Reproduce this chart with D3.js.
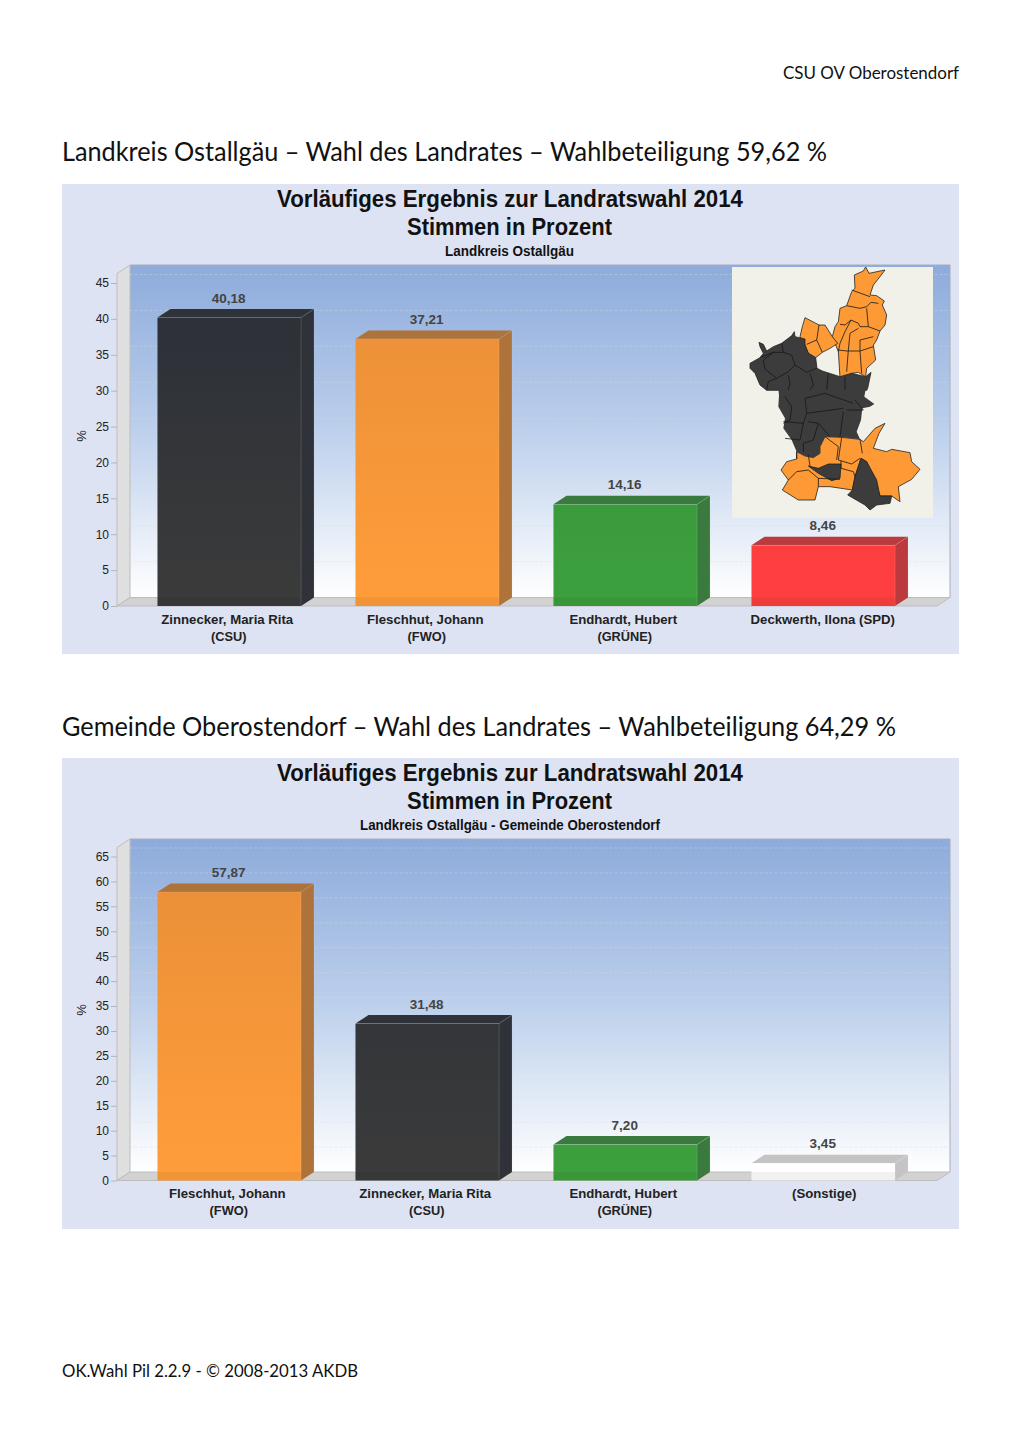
<!DOCTYPE html>
<html><head><meta charset="utf-8">
<script src="https://cdn.jsdelivr.net/npm/d3@7/dist/d3.min.js"></script>
<style>html,body{margin:0;padding:0;background:#fff}svg{display:block}</style>
</head><body><svg id="c" width="1020" height="1442"></svg>
<script>
const pageHeader = "CSU OV Oberostendorf";
const pageFooter = "OK.Wahl Pil 2.2.9 - © 2008-2013 AKDB";
const heading1 = "Landkreis Ostallgäu – Wahl des Landrates – Wahlbeteiligung 59,62 %";
const heading2 = "Gemeinde Oberostendorf – Wahl des Landrates – Wahlbeteiligung 64,29 %";
const chartTitle = ["Vorläufiges Ergebnis zur Landratswahl 2014", "Stimmen in Prozent"];
const subtitle1 = "Landkreis Ostallgäu";
const subtitle2 = "Landkreis Ostallgäu - Gemeinde Oberostendorf";
const names1 = ["Zinnecker, Maria Rita", "Fleschhut, Johann", "Endhardt, Hubert", "Deckwerth, Ilona (SPD)"];
const parties1 = ["(CSU)", "(FWO)", "(GRÜNE)", ""];
const values1 = [40.18, 37.21, 14.16, 8.46];
const groups1 = ["CSU", "FWO", "GRUENE", "SPD"];
const ticks1 = [0, 5, 10, 15, 20, 25, 30, 35, 40, 45];
const names2 = ["Fleschhut, Johann", "Zinnecker, Maria Rita", "Endhardt, Hubert", "(Sonstige)"];
const parties2 = ["(FWO)", "(CSU)", "(GRÜNE)", ""];
const values2 = [57.87, 31.48, 7.20, 3.45];
const groups2 = ["FWO", "CSU", "GRUENE", "OTHER"];
const ticks2 = [0, 5, 10, 15, 20, 25, 30, 35, 40, 45, 50, 55, 60, 65];
const frontTop = {CSU:"#2a2f37", FWO:"#e88e38", GRUENE:"#338f3c", SPD:"#f5393c", OTHER:"#ffffff"};
const frontBottom = {CSU:"#3b3b3b", FWO:"#ff9d3a", GRUENE:"#3da03d", SPD:"#ff3f3f", OTHER:"#ffffff"};
const shadeColors = {CSU:"#2f3239", FWO:"#ad733a", GRUENE:"#3a7a3e", SPD:"#bb3a3e", OTHER:"#c4c4c4"};

// Inset map outlines. North shapes use one map grid, south shapes another.
const northOrange1 = [[328,30],[355,18],[362,6],[372,25],[420,15],[405,35],[385,60],[375,90],[395,92],[418,108],[412,120],[425,150],[420,180],[405,198],[395,225],[385,240],[392,285],[365,310],[362,335],[340,322],[320,325],[285,340],[283,305],[280,260],[272,240],[262,215],[270,185],[280,170],[285,130],[305,122],[320,80],[330,70]];
const northOrange2 = [[180,158],[222,180],[240,180],[262,215],[278,235],[255,250],[232,262],[212,278],[190,265],[180,240],[165,215],[172,185]];
const northDark = [[42,232],[55,238],[65,258],[85,245],[110,235],[140,212],[148,200],[150,215],[180,222],[180,240],[190,265],[212,278],[216,310],[232,318],[285,335],[320,325],[362,335],[378,322],[368,370],[365,376],[65,376],[45,360],[30,325],[15,310],[15,295],[45,278],[55,265],[45,245]];
const northLines = [
 [[320,75],[375,95]],[[305,122],[345,130],[365,125],[378,112],[400,115]],[[365,130],[370,185],[405,198]],
 [[285,178],[300,180],[318,165],[340,175],[345,185],[370,185]],[[318,165],[300,200],[285,235],[280,260]],[[340,190],[315,205],[310,255],[305,320]],
 [[345,225],[345,258],[350,325]],[[280,255],[305,258],[345,258],[385,245]],[[345,225],[385,215]],
 [[222,180],[215,225],[232,262]],[[215,225],[185,238]],
 [[110,235],[115,262],[140,270],[150,300],[185,322],[215,310]],[[45,278],[85,262],[115,262]],[[85,262],[55,285],[60,312],[95,340],[70,350],[65,375]],
 [[95,340],[130,320],[150,300]],[[130,330],[135,355],[130,375]],[[195,325],[205,360],[195,375]],[[250,325],[245,375]],[[300,335],[300,375]]
];
const southDarkMain = [[10,-3],[272,-3],[268,20],[298,42],[285,50],[262,55],[258,90],[245,125],[255,148],[200,142],[150,140],[135,170],[135,190],[115,203],[90,198],[65,185],[50,150],[25,115],[30,85],[10,50],[12,15]];
const southOrange = [[65,185],[90,198],[115,203],[135,190],[135,170],[150,140],[200,142],[255,148],[265,155],[300,115],[330,100],[312,130],[295,175],[335,185],[350,178],[405,188],[410,215],[435,238],[410,268],[370,290],[375,335],[350,318],[315,318],[275,215],[258,205],[240,260],[232,300],[165,290],[130,290],[120,330],[70,330],[22,300],[40,270],[18,240],[35,215],[65,207]];
const southDark = [[258,205],[275,215],[305,270],[315,318],[350,318],[345,340],[305,345],[285,360],[270,345],[218,315],[232,300],[240,260]];
const southDarkSmall = [[100,228],[130,235],[160,222],[198,222],[195,265],[170,272],[130,250]];
const southLines = [
 [[30,20],[50,50],[45,90],[25,100]],[[90,25],[150,10],[235,40]],[[90,25],[95,70],[85,100]],[[95,70],[205,55]],[[205,65],[195,140]],[[240,30],[265,60],[215,60]],
 [[25,95],[85,100],[75,150],[30,145]],[[100,95],[130,100],[165,140]],[[130,100],[115,150],[85,160],[85,185]],
 [[65,185],[65,207]],[[100,195],[105,228]],[[150,140],[190,170],[185,210]],[[200,142],[190,210],[230,222],[255,205]],[[255,148],[262,190]],
 [[198,212],[198,235],[235,245],[240,260]],[[100,240],[65,245],[40,270]],[[100,240],[130,265],[130,290]],[[130,265],[195,268]]
];

const svg = d3.select("#c");
const bodyFont = "Lato, 'Open Sans', sans-serif";
const chartFont = "'Liberation Sans', Arial, sans-serif";
const defs = svg.append("defs");
const grad = defs.append("linearGradient").attr("id","wall").attr("x1",0).attr("y1",0).attr("x2",0).attr("y2",1);
grad.append("stop").attr("offset","0").attr("stop-color","#8dabdb");
grad.append("stop").attr("offset","0.5").attr("stop-color","#bdd0ec");
grad.append("stop").attr("offset","1").attr("stop-color","#ffffff");

function pageText(t,x,y,size,anchor,len){
  svg.append("text").attr("x",x).attr("y",y).attr("font-family",bodyFont).attr("font-size",size)
    .attr("fill","#111").attr("text-anchor",anchor||"start").attr("textLength",len).attr("lengthAdjust","spacingAndGlyphs").text(t);
}
pageText(pageHeader,783,79,17.5,"start",176);
pageText(heading1,62,161,26.5,"start",765);
pageText(heading2,62,736,26.5,"start",834);
pageText(pageFooter,62,1377,17.5,"start",296);

function drawChart(cfg){
  const g = svg.append("g");
  const dx = 13, dy = 8.5;
  const L = 117, R = 937;
  const y = d3.scaleLinear().domain(cfg.domain).range(cfg.range);
  const x = d3.scaleBand().domain(d3.range(cfg.names.length)).range([130.25,922.25]).paddingInner(.275).paddingOuter(.1375);
  const base = y(0), topBack = cfg.topBack, top = topBack + dy;

  g.append("rect").attr("x",62).attr("y",cfg.panelTop).attr("width",897).attr("height",cfg.panelH).attr("fill","#dde3f3");

  chartTitle.forEach((t,i)=>g.append("text").attr("x",i?407:277).attr("y",cfg.panelTop+23+i*28.3)
    .attr("font-family",chartFont).attr("font-weight","bold").attr("font-size",24).attr("fill","#111")
    .attr("textLength",i?205:466).attr("lengthAdjust","spacingAndGlyphs").text(t));
  g.append("text").attr("x",cfg.subX).attr("y",cfg.panelTop+72).attr("font-family",chartFont)
    .attr("font-weight","bold").attr("font-size",14).attr("fill","#111")
    .attr("textLength",cfg.subLen).attr("lengthAdjust","spacingAndGlyphs").text(cfg.subtitle);

  g.append("rect").attr("x",L+dx).attr("y",topBack).attr("width",R-L).attr("height",base-dy-topBack).attr("fill","url(#wall)");
  g.append("polygon").attr("points",[[L,top],[L+dx,topBack],[L+dx,base-dy],[L,base]].join(" ")).attr("fill","#dfdfdf").attr("stroke","#bdbdbd");
  g.append("polygon").attr("points",[[L,base],[L+dx,base-dy],[R+dx,base-dy],[R,base]].join(" ")).attr("fill","#d2d2d2").attr("stroke","#bdbdbd");
  g.append("path").attr("d",`M${L+dx},${topBack}H${R+dx}V${base-dy}`).attr("fill","none").attr("stroke","#a9adb8");

  cfg.ticks.filter(t=>t>0).forEach(t=>{
    g.append("path").attr("d",`M${L},${y(t)}L${L+dx},${y(t)-dy}H${R+dx}`).attr("fill","none")
      .attr("stroke","#d8dbe2").attr("stroke-opacity",.5).attr("stroke-width",.8).attr("stroke-dasharray","3,2");
  });

  const ax = g.append("g").attr("transform",`translate(${L},0)`).call(d3.axisLeft(y).tickValues(cfg.ticks).tickSize(6).tickPadding(2));
  ax.select(".domain").remove();
  ax.selectAll("line").attr("stroke","#b5b5b5");
  ax.selectAll("text").attr("font-family",chartFont).attr("font-size",12).attr("fill","#222");
  g.append("text").attr("transform",`translate(86,${cfg.pctY}) rotate(-90)`).attr("text-anchor","middle").attr("font-family",chartFont).attr("font-size",13).attr("fill","#222").text("%");

  const bars = g.selectAll("g.bar").data(cfg.values).join("g").attr("class","bar");
  cfg.groups.forEach(k=>{
    const lg = defs.append("linearGradient").attr("id",cfg.id+k).attr("gradientUnits","userSpaceOnUse")
      .attr("x1",0).attr("x2",0).attr("y1",topBack).attr("y2",base);
    lg.append("stop").attr("offset",0).attr("stop-color",frontTop[k]);
    lg.append("stop").attr("offset",1).attr("stop-color",frontBottom[k]);
  });
  bars.append("polygon").attr("points",(v,i)=>{const a=x(i),b=a+x.bandwidth(),t=y(v);return [[a,t],[a+dx,t-dy],[b+dx,t-dy],[b,t]].join(" ")})
    .attr("fill",(v,i)=>shadeColors[cfg.groups[i]]);
  bars.append("polygon").attr("points",(v,i)=>{const b=x(i)+x.bandwidth(),t=y(v);return [[b,t],[b+dx,t-dy],[b+dx,base-dy],[b,base]].join(" ")})
    .attr("fill",(v,i)=>shadeColors[cfg.groups[i]]);
  bars.append("rect").attr("x",(v,i)=>x(i)).attr("y",v=>y(v)).attr("width",x.bandwidth()).attr("height",v=>base-y(v))
    .attr("fill",(v,i)=>`url(#${cfg.id}${cfg.groups[i]})`);
  bars.append("rect").attr("x",(v,i)=>x(i)).attr("y",base-dy).attr("width",x.bandwidth()).attr("height",dy)
    .attr("fill","#000").attr("fill-opacity",.055);
  bars.append("path").attr("d",(v,i)=>{const a=x(i),b=a+x.bandwidth(),t=y(v);return `M${a},${t}H${b}V${base}M${b},${t}L${b+dx},${t-dy}V${base-dy}`})
    .attr("fill","none").attr("stroke","#fff").attr("stroke-opacity",.13);
  bars.append("text").attr("x",(v,i)=>x(i)+x.bandwidth()/2-.5).attr("y",v=>y(v)-dy-6.5).attr("text-anchor","middle")
    .attr("font-family",chartFont).attr("font-weight","bold").attr("font-size",13.5).attr("fill","#444")
    .text(v=>d3.format(".2f")(v).replace(".",","));

  cfg.names.forEach((n,i)=>{
    const cx = x(i)+x.bandwidth()/2;
    g.append("text").attr("x",cx+(cfg.parties[i]?-2:(n[0]==="("?1:-.5))).attr("y",base+17.5).attr("text-anchor","middle").attr("font-family",chartFont)
      .attr("font-weight","bold").attr("font-size",13.2).attr("fill","#222").text(n);
    if(cfg.parties[i]) g.append("text").attr("x",cx-.5).attr("y",base+34.5).attr("text-anchor","middle").attr("font-family",chartFont)
      .attr("font-weight","bold").attr("font-size",12.8).attr("fill","#222").text(cfg.parties[i]);
  });
}

function drawMap(g){
  g.append("rect").attr("x",732).attr("y",267).attr("width",201).attr("height",251).attr("fill","#f1f1ea");
  const nx = d3.scaleLinear().domain([0,435]).range([745,890]), ny = d3.scaleLinear().domain([0,375]).range([265,390]);
  const sx = d3.scaleLinear().domain([0,450]).range([775,925]), sy = d3.scaleLinear().domain([0,375]).range([390,515]);
  const north = d3.line().x(d=>nx(d[0])).y(d=>ny(d[1]));
  const south = d3.line().x(d=>sx(d[0])).y(d=>sy(d[1]));
  const draw = (gen,shape,fill)=>g.append("path").attr("d",gen(shape)+"Z").attr("fill",fill).attr("stroke","#222").attr("stroke-width",.8).attr("stroke-linejoin","round");
  draw(north,northOrange1,"#fd9a36"); draw(north,northOrange2,"#fd9a36");
  draw(south,southOrange,"#fd9a36"); draw(south,southDark,"#3c3c3c"); draw(south,southDarkSmall,"#3c3c3c");
  draw(north,northDark,"#3c3c3c");
  g.append("path").attr("d",south(southDarkMain)+"Z").attr("fill","#3c3c3c").attr("stroke","none");
  northLines.forEach(s=>g.append("path").attr("d",north(s)).attr("fill","none").attr("stroke","#161616").attr("stroke-width",.8));
  southLines.forEach(s=>g.append("path").attr("d",south(s)).attr("fill","none").attr("stroke","#161616").attr("stroke-width",.8));
}

drawChart({id:"a",panelTop:184,panelH:470,subtitle:subtitle1,subX:445,subLen:129,names:names1,parties:parties1,values:values1,groups:groups1,ticks:ticks1,
  domain:[0,45],range:[606,283],topBack:265,pctY:436});
drawChart({id:"b",panelTop:758,panelH:471,subtitle:subtitle2,subX:360,subLen:300,names:names2,parties:parties2,values:values2,groups:groups2,ticks:ticks2,
  domain:[0,65],range:[1180.5,856.5],topBack:839,pctY:1010});
drawMap(svg.append("g"));
</script></body></html>
